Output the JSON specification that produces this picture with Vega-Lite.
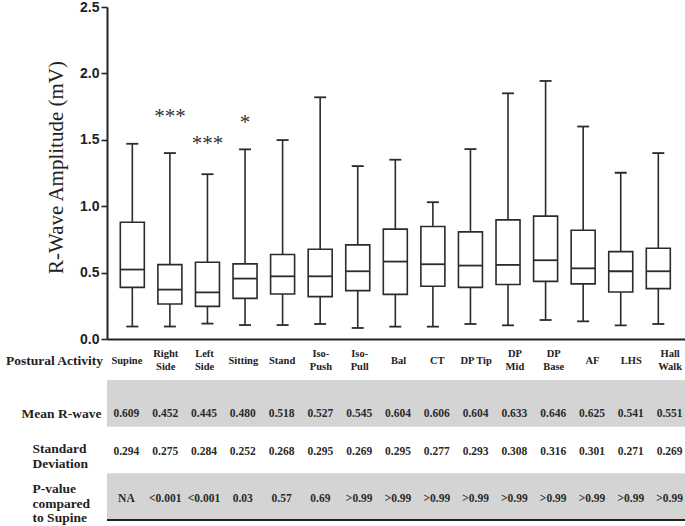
{
  "$schema": "https://vega.github.io/schema/vega-lite/v6.json",
  "padding": {"left": 5, "top": 0, "right": 0, "bottom": 0},
  "background": "white",
  "spacing": 41,
  "bounds": "flush",
  "config": {"view": {"stroke": null}},
  "datasets": {
    "act": [
      {"activity": "Supine", "min": 0.094, "q1": 0.389, "median": 0.523, "q3": 0.879, "max": 1.47, "mean": 0.609, "sd": 0.294, "p": "NA"},
      {"activity": "Right Side", "min": 0.094, "q1": 0.264, "median": 0.372, "q3": 0.56, "max": 1.40, "mean": 0.452, "sd": 0.275, "p": "<0.001"},
      {"activity": "Left Side", "min": 0.116, "q1": 0.246, "median": 0.351, "q3": 0.578, "max": 1.241, "mean": 0.445, "sd": 0.284, "p": "<0.001"},
      {"activity": "Sitting", "min": 0.105, "q1": 0.306, "median": 0.455, "q3": 0.566, "max": 1.428, "mean": 0.480, "sd": 0.252, "p": "0.03"},
      {"activity": "Stand", "min": 0.105, "q1": 0.339, "median": 0.472, "q3": 0.636, "max": 1.498, "mean": 0.518, "sd": 0.268, "p": "0.57"},
      {"activity": "Iso-Push", "min": 0.113, "q1": 0.319, "median": 0.472, "q3": 0.676, "max": 1.82, "mean": 0.527, "sd": 0.295, "p": "0.69"},
      {"activity": "Iso-Pull", "min": 0.083, "q1": 0.364, "median": 0.51, "q3": 0.709, "max": 1.302, "mean": 0.545, "sd": 0.269, "p": ">0.99"},
      {"activity": "Bal", "min": 0.093, "q1": 0.336, "median": 0.583, "q3": 0.827, "max": 1.35, "mean": 0.604, "sd": 0.295, "p": ">0.99"},
      {"activity": "CT", "min": 0.093, "q1": 0.397, "median": 0.563, "q3": 0.847, "max": 1.03, "mean": 0.606, "sd": 0.277, "p": ">0.99"},
      {"activity": "DP Tip", "min": 0.113, "q1": 0.389, "median": 0.553, "q3": 0.807, "max": 1.43, "mean": 0.604, "sd": 0.293, "p": ">0.99"},
      {"activity": "DP Mid", "min": 0.103, "q1": 0.41, "median": 0.558, "q3": 0.897, "max": 1.85, "mean": 0.633, "sd": 0.308, "p": ">0.99"},
      {"activity": "DP Base", "min": 0.143, "q1": 0.434, "median": 0.593, "q3": 0.925, "max": 1.943, "mean": 0.646, "sd": 0.316, "p": ">0.99"},
      {"activity": "AF", "min": 0.133, "q1": 0.415, "median": 0.532, "q3": 0.819, "max": 1.60, "mean": 0.625, "sd": 0.301, "p": ">0.99"},
      {"activity": "LHS", "min": 0.103, "q1": 0.354, "median": 0.51, "q3": 0.658, "max": 1.252, "mean": 0.541, "sd": 0.271, "p": ">0.99"},
      {"activity": "Hall Walk", "min": 0.113, "q1": 0.379, "median": 0.51, "q3": 0.683, "max": 1.40, "mean": 0.551, "sd": 0.269, "p": ">0.99"}
    ],
    "stars": [
      {"activity": "Right Side", "label": "***", "y": 1.63},
      {"activity": "Left Side", "label": "***", "y": 1.42},
      {"activity": "Sitting", "label": "*", "y": 1.58}
    ],
    "shaded": [
      {"row": "Mean R-wave"},
      {"row": "P-value\ncompared\nto Supine"}
    ],
    "bottomline": [
      {"row": "P-value\ncompared\nto Supine"}
    ]
  },
  "vconcat": [
    {
      "width": 582,
      "height": 332,
      "data": {"name": "act"},
      "encoding": {
        "x": {
          "field": "activity", "type": "nominal", "title": null,
          "scale": {"domain": ["Supine", "Right Side", "Left Side", "Sitting", "Stand", "Iso-Push", "Iso-Pull", "Bal", "CT", "DP Tip", "DP Mid", "DP Base", "AF", "LHS", "Hall Walk"], "paddingInner": 0.361, "paddingOuter": 0.426, "align": 0.416},
          "axis": {"labels": false, "ticks": false, "title": null, "domainColor": "#222222", "domainWidth": 2}
        }
      },
      "layer": [
        {
          "mark": {"type": "rule", "color": "#2b2b2b", "strokeWidth": 1.6},
          "encoding": {
            "y": {
              "field": "min", "type": "quantitative", "title": "R-Wave Amplitude (mV)",
              "scale": {"domain": [0, 2.5], "nice": false, "zero": true},
              "axis": {
                "values": [0, 0.25, 0.5, 0.75, 1, 1.25, 1.5, 1.75, 2, 2.25, 2.5],
                "labelExpr": "datum.value % 0.5 == 0 ? format(datum.value, '.1f') : ''",
                "tickSize": {"condition": {"test": "datum.value % 0.5 == 0", "value": 6}, "value": 3},
                "tickWidth": 1.6, "tickColor": "#222222",
                "domainColor": "#222222", "domainWidth": 2,
                "grid": false,
                "labelFont": "Liberation Sans", "labelFontWeight": "bold", "labelFontSize": 14, "labelColor": "#222222",
                "labelPadding": 2, "labelFlush": false, "labelOverlap": false,
                "titleFont": "Liberation Serif", "titleFontWeight": "normal", "titleFontSize": 21, "titleColor": "#222222",
                "titlePadding": 13, "titleY": 160
              }
            },
            "y2": {"field": "max"}
          }
        },
        {
          "mark": {"type": "bar", "fill": "white", "stroke": "#2b2b2b", "strokeWidth": 1.6, "opacity": 1},
          "encoding": {
            "y": {"field": "q1", "type": "quantitative", "title": "R-Wave Amplitude (mV)"},
            "y2": {"field": "q3"}
          }
        },
        {
          "mark": {"type": "tick", "color": "#2b2b2b", "thickness": 1.8, "size": 24, "opacity": 1},
          "encoding": {
            "y": {"field": "median", "type": "quantitative", "title": "R-Wave Amplitude (mV)"}
          }
        },
        {
          "mark": {"type": "tick", "color": "#2b2b2b", "thickness": 1.8, "size": 12, "opacity": 1},
          "encoding": {
            "y": {"field": "min", "type": "quantitative", "title": "R-Wave Amplitude (mV)"}
          }
        },
        {
          "mark": {"type": "tick", "color": "#2b2b2b", "thickness": 1.8, "size": 12, "opacity": 1},
          "encoding": {
            "y": {"field": "max", "type": "quantitative", "title": "R-Wave Amplitude (mV)"}
          }
        },
        {
          "data": {"name": "stars"},
          "mark": {"type": "text", "font": "Liberation Serif", "fontSize": 21, "color": "#333333", "baseline": "alphabetic", "align": "center"},
          "encoding": {
            "y": {"field": "y", "type": "quantitative", "title": "R-Wave Amplitude (mV)"},
            "text": {"field": "label"}
          }
        }
      ]
    },
    {
      "width": 582,
      "height": 140,
      "layer": [
        {
          "data": {"name": "shaded"},
          "mark": {"type": "rect", "color": "#d4d4d4"},
          "encoding": {
            "y": {
              "field": "row", "type": "nominal", "title": null,
              "scale": {"domain": ["Mean R-wave", "Standard\nDeviation", "P-value\ncompared\nto Supine"], "paddingInner": 0, "paddingOuter": 0},
              "axis": {
                "title": null, "ticks": false, "tickSize": 0, "domain": false,
                "labelExpr": "split(datum.label, '\\n')",
                "labelFont": "Liberation Serif", "labelFontWeight": "bold", "labelFontSize": 13.5, "labelColor": "#222222",
                "labelLineHeight": 14.5, "labelBaseline": "middle",
                "labelAlign": {"condition": {"test": "datum.value == 'Mean R-wave'", "value": "center"}, "value": "left"},
                "labelPadding": {"condition": {"test": "datum.value == 'Mean R-wave'", "value": 46}, "value": 75},
                "labelOffset": {"condition": [{"test": "datum.value == 'Mean R-wave'", "value": 10.5}, {"test": "datum.value == 'Standard\\nDeviation'", "value": -1}], "value": -7.5}
              }
            }
          }
        },
        {
          "data": {"name": "bottomline"},
          "mark": {"type": "rule", "color": "#222222", "strokeWidth": 2},
          "encoding": {
            "y": {"field": "row", "type": "nominal", "bandPosition": 1}
          }
        },
        {
          "data": {"name": "act"},
          "mark": {"type": "text", "font": "Liberation Serif", "fontWeight": "bold", "fontSize": 11.5, "color": "#2a2a2a", "dy": 10.5},
          "encoding": {
            "x": {
              "field": "activity", "type": "nominal", "title": "Postural Activity",
              "scale": {"domain": ["Supine", "Right Side", "Left Side", "Sitting", "Stand", "Iso-Push", "Iso-Pull", "Bal", "CT", "DP Tip", "DP Mid", "DP Base", "AF", "LHS", "Hall Walk"], "paddingInner": 0, "paddingOuter": 0},
              "axis": {
                "orient": "top", "ticks": false, "tickSize": 0, "domain": false,
                "labelExpr": "datum.label == 'DP Tip' ? datum.label : split(replace(datum.label, '-', '- '), ' ')",
                "labelFont": "Liberation Serif", "labelFontWeight": "bold", "labelFontSize": 10.5, "labelColor": "#222222",
                "labelLineHeight": 13, "labelBaseline": "middle", "labelAngle": 0,
                "labelPadding": {"condition": {"test": "datum.value == 'Right Side' || datum.value == 'Left Side' || datum.value == 'Iso-Push' || datum.value == 'Iso-Pull' || datum.value == 'DP Mid' || datum.value == 'DP Base' || datum.value == 'Hall Walk'", "value": 27}, "value": 20},
                "titleFont": "Liberation Serif", "titleFontWeight": "bold", "titleFontSize": 13.5, "titleColor": "#222222",
                "titleX": -53, "titleY": -20, "titleAlign": "center", "titleBaseline": "middle", "titleAngle": 0
              }
            },
            "y": {"datum": "Mean R-wave", "type": "nominal"},
            "text": {"field": "mean", "format": ".3f"}
          }
        },
        {
          "data": {"name": "act"},
          "mark": {"type": "text", "font": "Liberation Serif", "fontWeight": "bold", "fontSize": 11.5, "color": "#2a2a2a", "dy": 2},
          "encoding": {
            "x": {"field": "activity", "type": "nominal", "title": "Postural Activity"},
            "y": {"datum": "Standard\nDeviation", "type": "nominal"},
            "text": {"field": "sd", "format": ".3f"}
          }
        },
        {
          "data": {"name": "act"},
          "mark": {"type": "text", "font": "Liberation Serif", "fontWeight": "bold", "fontSize": 11.5, "color": "#2a2a2a", "dy": 2},
          "encoding": {
            "x": {"field": "activity", "type": "nominal", "title": "Postural Activity"},
            "y": {"datum": "P-value\ncompared\nto Supine", "type": "nominal"},
            "text": {"field": "p"}
          }
        }
      ]
    }
  ]
}
